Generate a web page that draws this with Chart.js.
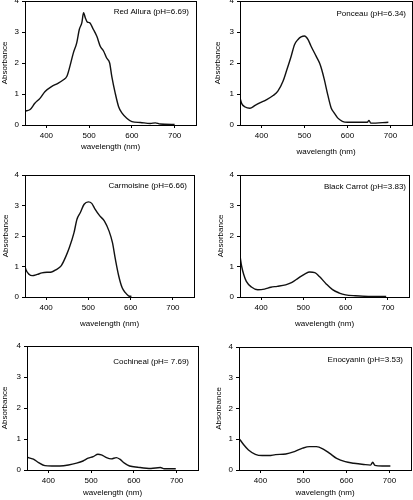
<!DOCTYPE html>
<html>
<head>
<meta charset="utf-8">
<script src="https://cdn.jsdelivr.net/npm/chart.js@4.4.1/dist/chart.umd.min.js"></script>
<style>
  html, body { margin: 0; padding: 0; background: #fff; }
  #wrap { position: relative; width: 413px; height: 500px; overflow: hidden; }
  #wrap canvas { position: absolute; }
</style>
</head>
<body>
<div id="wrap"></div>
<script>
// wavelength (nm) / absorbance
const redAlluraNm  = [350, 362, 373, 385, 397, 412, 428, 440, 448, 455, 463, 471, 477, 483, 487, 491, 496, 501, 510, 518, 526, 534, 541, 548, 553, 561, 569, 577, 588, 600, 620, 643, 655, 666, 700];
const redAlluraAbs = [0.45, 0.5, 0.7, 0.86, 1.08, 1.24, 1.35, 1.46, 1.57, 1.89, 2.32, 2.65, 3.08, 3.3, 3.62, 3.46, 3.32, 3.3, 3.08, 2.86, 2.54, 2.38, 2.16, 2.0, 1.57, 1.03, 0.59, 0.38, 0.22, 0.11, 0.08, 0.05, 0.07, 0.03, 0.02];

const ponceauNm  = [350, 354, 362, 373, 385, 396, 412, 427, 438, 450, 458, 469, 477, 485, 492, 500, 508, 515, 527, 535, 540, 546, 554, 562, 569, 577, 588, 600, 646, 650, 654, 695];
const ponceauAbs = [0.87, 0.69, 0.58, 0.54, 0.63, 0.71, 0.82, 0.95, 1.09, 1.41, 1.74, 2.22, 2.6, 2.76, 2.84, 2.87, 2.76, 2.55, 2.22, 2.0, 1.79, 1.47, 0.98, 0.55, 0.39, 0.23, 0.12, 0.09, 0.09, 0.15, 0.06, 0.09];

const carmoisineNm  = [350, 352, 360, 367, 379, 390, 402, 413, 424, 436, 447, 455, 466, 473, 481, 490, 500, 508, 515, 527, 538, 549, 557, 564, 572, 580, 587, 595, 602];
const carmoisineAbs = [1.01, 0.9, 0.74, 0.7, 0.74, 0.79, 0.81, 0.82, 0.9, 1.03, 1.34, 1.62, 2.11, 2.55, 2.77, 3.04, 3.12, 3.07, 2.9, 2.66, 2.49, 2.16, 1.78, 1.23, 0.68, 0.3, 0.15, 0.04, 0.02];

const blackCarrotNm  = [350, 354, 359, 365, 377, 392, 408, 423, 438, 458, 473, 488, 504, 515, 527, 538, 554, 569, 585, 600, 623, 654, 696];
const blackCarrotAbs = [1.35, 1.0, 0.73, 0.51, 0.33, 0.24, 0.26, 0.32, 0.35, 0.4, 0.48, 0.62, 0.76, 0.82, 0.8, 0.67, 0.43, 0.24, 0.13, 0.07, 0.04, 0.02, 0.02];

const cochinealNm  = [350, 365, 377, 392, 408, 427, 447, 466, 481, 493, 505, 516, 524, 536, 547, 559, 567, 578, 590, 609, 640, 662, 671, 698];
const cochinealAbs = [0.41, 0.35, 0.24, 0.14, 0.13, 0.13, 0.16, 0.22, 0.29, 0.38, 0.43, 0.51, 0.49, 0.4, 0.36, 0.4, 0.35, 0.22, 0.13, 0.09, 0.05, 0.08, 0.04, 0.04];

const enocyaninNm  = [350, 361, 372, 388, 404, 420, 435, 459, 479, 498, 514, 530, 546, 561, 577, 597, 617, 640, 656, 661, 666, 683, 702];
const enocyaninAbs = [1.03, 0.82, 0.65, 0.51, 0.47, 0.47, 0.5, 0.52, 0.6, 0.71, 0.76, 0.76, 0.68, 0.54, 0.38, 0.27, 0.22, 0.18, 0.16, 0.25, 0.15, 0.13, 0.13];

const labels = ['Red Allura (pH=6.69)', 'Ponceau (pH=6.34)', 'Carmoisine (pH=6.66)',
                'Black Carrot (pH=3.83)', 'Cochineal (pH= 7.69)', 'Enocyanin (pH=3.53)'];
const xTickVals = [400, 500, 600, 700];
const yTickVals = [0, 1, 2, 3, 4];

// canvas box + plot area (page px) for each panel
const panels = [
  { nm: redAlluraNm,   abs: redAlluraAbs,   box: [0, 0, 206, 160],     area: [25, 1, 196, 125],    yt: 0,  xt: 8, lab: [7, 11] },
  { nm: ponceauNm,     abs: ponceauAbs,     box: [206, 0, 207, 160],   area: [240, 1, 412, 125],   yt: 7,  xt: 3, lab: [6, 13] },
  { nm: carmoisineNm,  abs: carmoisineAbs,  box: [0, 160, 206, 170],   area: [25, 175, 194, 297],  yt: 1,  xt: 1, lab: [7, 11] },
  { nm: blackCarrotNm, abs: blackCarrotAbs, box: [206, 160, 207, 170], area: [240, 175, 409, 297], yt: 10, xt: 1, lab: [3, 12] },
  { nm: cochinealNm,   abs: cochinealAbs,   box: [0, 330, 206, 170],   area: [27, 346, 198, 470],  yt: 0,  xt: 2, lab: [9, 16] },
  { nm: enocyaninNm,   abs: enocyaninAbs,   box: [206, 330, 207, 170], area: [239, 347, 411, 470], yt: 8,  xt: 2, lab: [8, 13] },
];

Chart.defaults.font.family = 'Arial, "Liberation Sans", sans-serif';
Chart.defaults.font.size = 8;
Chart.defaults.color = '#000';

const framePlugin = {
  id: 'frame',
  afterDraw(chart, args, opts) {
    const { ctx, chartArea: a } = chart;
    ctx.save();
    ctx.strokeStyle = '#000';
    ctx.lineWidth = 1;
    ctx.strokeRect(Math.round(a.left) + 0.5, Math.round(a.top) + 0.5,
                   Math.round(a.right - a.left), Math.round(a.bottom - a.top));
    ctx.font = '8px Arial, "Liberation Sans", sans-serif';
    ctx.fillStyle = '#000';
    ctx.textAlign = 'right';
    ctx.textBaseline = 'middle';
    ctx.fillText(opts.text, a.right - opts.dx, a.top + opts.dy);
    ctx.restore();
  }
};

const wrap = document.getElementById('wrap');

panels.forEach((p, i) => {
  const [bx, by, bw, bh] = p.box;
  const [l, t, r, b] = p.area;
  const cv = document.createElement('canvas');
  cv.width = bw; cv.height = bh;
  cv.style.left = bx + 'px'; cv.style.top = by + 'px';
  cv.style.width = bw + 'px'; cv.style.height = bh + 'px';
  wrap.appendChild(cv);

  new Chart(cv, {
    type: 'line',
    data: {
      datasets: [{
        data: p.nm.map((x, k) => ({ x: x, y: p.abs[k] })),
        borderColor: '#111',
        borderWidth: 1.4,
        pointRadius: 0,
        cubicInterpolationMode: 'monotone',
        fill: false,
      }],
    },
    options: {
      responsive: false,
      animation: false,
      events: [],
      layout: { autoPadding: false, padding: { left: 0, top: t - by, right: bx + bw - r, bottom: 0 } },
      plugins: {
        legend: { display: false },
        tooltip: { enabled: false },
        frame: { text: labels[i], dx: p.lab[0], dy: p.lab[1] },
      },
      scales: {
        x: {
          type: 'linear', min: 350, max: 750,
          afterBuildTicks: (s) => { s.ticks = xTickVals.map(v => ({ value: v })); },
          afterFit: (s) => { s.height = by + bh - b; s.paddingLeft = 0; s.paddingRight = 0; },
          ticks: { padding: 3, maxRotation: 0 },
          grid: { drawOnChartArea: false, drawTicks: true, tickLength: 3, color: '#000' },
          border: { display: true, color: '#000' },
          title: { display: true, text: 'wavelength (nm)', padding: { top: 0, bottom: p.xt } },
        },
        y: {
          type: 'linear', min: 0, max: 4,
          afterBuildTicks: (s) => { s.ticks = yTickVals.map(v => ({ value: v })); },
          afterFit: (s) => { s.width = l - bx; s.paddingTop = 0; s.paddingBottom = 0; },
          ticks: { padding: 3 },
          grid: { drawOnChartArea: false, drawTicks: true, tickLength: 3, color: '#000' },
          border: { display: true, color: '#000' },
          title: { display: true, text: 'Absorbance', padding: { top: p.yt, bottom: 0 } },
        },
      },
    },
    plugins: [framePlugin],
  });
});
</script>
</body>
</html>
